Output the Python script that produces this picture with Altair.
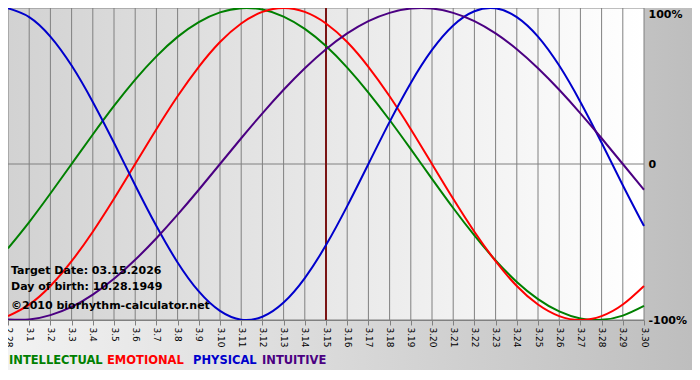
import altair as alt
import pandas as pd

# ---- data ----
dates = ["2.28", "3.1", "3.2", "3.3", "3.4", "3.5", "3.6", "3.7", "3.8", "3.9",
         "3.10", "3.11", "3.12", "3.13", "3.14", "3.15", "3.16", "3.17", "3.18",
         "3.19", "3.20", "3.21", "3.22", "3.23", "3.24", "3.25", "3.26", "3.27",
         "3.28", "3.29", "3.30"]

intellectual = [-0.541, -0.372, -0.189, 0.0, 0.189, 0.372, 0.541, 0.690, 0.815, 0.910,
                0.972, 0.999, 0.990, 0.945, 0.866, 0.756, 0.618, 0.458, 0.282, 0.095,
                -0.095, -0.282, -0.458, -0.618, -0.756, -0.866, -0.945, -0.990, -0.999,
                -0.972, -0.910]
emotional = [-0.975, -0.901, -0.782, -0.623, -0.434, -0.223, 0.0, 0.223, 0.434, 0.623,
             0.782, 0.901, 0.975, 1.0, 0.975, 0.901, 0.782, 0.623, 0.434, 0.223,
             0.0, -0.223, -0.434, -0.623, -0.782, -0.901, -0.975, -1.0, -0.975,
             -0.901, -0.782]
physical = [0.998, 0.942, 0.817, 0.631, 0.398, 0.136, -0.136, -0.398, -0.631, -0.817,
            -0.942, -0.998, -0.979, -0.888, -0.731, -0.520, -0.270, 0.0, 0.270, 0.520,
            0.731, 0.888, 0.979, 0.998, 0.942, 0.817, 0.631, 0.398, 0.136, -0.136,
            -0.398]
intuitive = [-0.997, -0.997, -0.969, -0.916, -0.837, -0.736, -0.614, -0.476, -0.325,
             -0.165, 0.0, 0.165, 0.325, 0.476, 0.614, 0.736, 0.837, 0.916, 0.969,
             0.997, 0.997, 0.969, 0.916, 0.837, 0.736, 0.614, 0.476, 0.325, 0.165,
             0.0, -0.165]

series_names = ["INTELLECTUAL", "EMOTIONAL", "PHYSICAL", "INTUITIVE"]
series_values = [intellectual, emotional, physical, intuitive]
series_colors = ["#008000", "#ff0000", "#0000cc", "#4b0082"]

target_date = "3.15"
y_ticks = [1, 0, -1]
y_labels = ["100%", "0", "-100%"]
info_lines = ["Target Date: 03.15.2026", "Day of birth: 10.28.1949",
              "\u00a92010 biorhythm-calculator.net"]

# ---- layout ----
W, H = 636, 312
PAD_R, PAD_B = 48, 52
FONT = "DejaVu Sans"
GRID = "#808080"

rows = []
for name, vals in zip(series_names, series_values):
    for d, v in zip(dates, vals):
        rows.append({"date": d, "value": v, "series": name})
df = pd.DataFrame(rows)
one = pd.DataFrame({"k": [0]})

xscale = alt.Scale(type="point", padding=0)
yscale = alt.Scale(domain=[-1, 1], nice=False)
label_expr = " : ".join(
    f"datum.value == {t} ? '{l}'" for t, l in zip(y_ticks, y_labels)
) + " : ''"

x_axis = alt.Axis(title=None, grid=False, labelAngle=90, labelOverlap=False,
                  labelFont=FONT, labelFontSize=9, labelColor="black",
                  labelPadding=2, tickColor=GRID, tickSize=5,
                  domainColor=GRID, zindex=1)
y_axis = alt.Axis(orient="right", title=None, values=y_ticks, grid=False,
                  ticks=False, domain=False, labelExpr=label_expr,
                  labelFont=FONT, labelFontSize=11, labelFontWeight="bold",
                  labelColor="black", labelPadding=4, zindex=1,
                  labelBaseline={"condition": {"test": "datum.value == 1", "value": "top"},
                                 "value": "middle"})

band = alt.Chart(one).mark_rect(
    color=alt.LinearGradient(
        gradient="linear", x1=0, x2=1, y1=0, y2=0,
        stops=[alt.GradientStop(color="#f2f2f2", offset=0),
               alt.GradientStop(color="#bebebe", offset=1)])
).encode(x=alt.value(0), x2=alt.value(W + PAD_R), y=alt.value(0), y2=alt.value(H + 50))

plotbg = alt.Chart(one).mark_rect(
    color=alt.LinearGradient(
        gradient="linear", x1=0, x2=1, y1=0, y2=0,
        stops=[alt.GradientStop(color="#d2d2d2", offset=0),
               alt.GradientStop(color="#e8e8e8", offset=0.5),
               alt.GradientStop(color="#ffffff", offset=1)])
).encode(x=alt.value(0), x2=alt.value(W), y=alt.value(0), y2=alt.value(H))

vgrid = alt.Chart(pd.DataFrame({"date": dates})).mark_rule(
    color=GRID, strokeWidth=1
).encode(x=alt.X("date:O", sort=dates, scale=xscale, axis=x_axis))

hgrid = alt.Chart(pd.DataFrame({"value": y_ticks})).mark_rule(
    color=GRID, strokeWidth=1
).encode(y=alt.Y("value:Q", scale=yscale, axis=y_axis))

target = alt.Chart(pd.DataFrame({"date": [target_date]})).mark_rule(
    color="#7a1414", strokeWidth=2
).encode(x=alt.X("date:O", sort=dates, scale=xscale, axis=x_axis))

lines = alt.Chart(df).mark_line(strokeWidth=2, interpolate="natural").encode(
    x=alt.X("date:O", sort=dates, scale=xscale, axis=x_axis),
    y=alt.Y("value:Q", scale=yscale, axis=y_axis),
    color=alt.Color("series:N", scale=alt.Scale(domain=series_names, range=series_colors),
                    legend=None),
)

info_y = [263, 279, 298]
info = [
    alt.Chart(one).mark_text(align="left", baseline="middle", font=FONT, fontSize=11,
                             fontWeight="bold", color="black").encode(
        x=alt.value(3), y=alt.value(yy), text=alt.value(t))
    for t, yy in zip(info_lines, info_y)
]

legend_x = [1, 99, 185, 254]
legend = [
    alt.Chart(one).mark_text(align="left", baseline="middle", font=FONT, fontSize=11.5,
                             fontWeight="bold", color=c).encode(
        x=alt.value(xx), y=alt.value(H + 41), text=alt.value(n))
    for n, c, xx in zip(series_names, series_colors, legend_x)
]

chart = alt.layer(band, plotbg, vgrid, hgrid, target, lines, *info, *legend).properties(
    width=W, height=H,
    autosize=alt.AutoSizeParams(type="none"),
    padding={"left": 0, "top": 0, "right": PAD_R, "bottom": PAD_B},
).configure_view(strokeWidth=0)

chart.save("out.html", embed_options={"renderer": "svg", "actions": False})
